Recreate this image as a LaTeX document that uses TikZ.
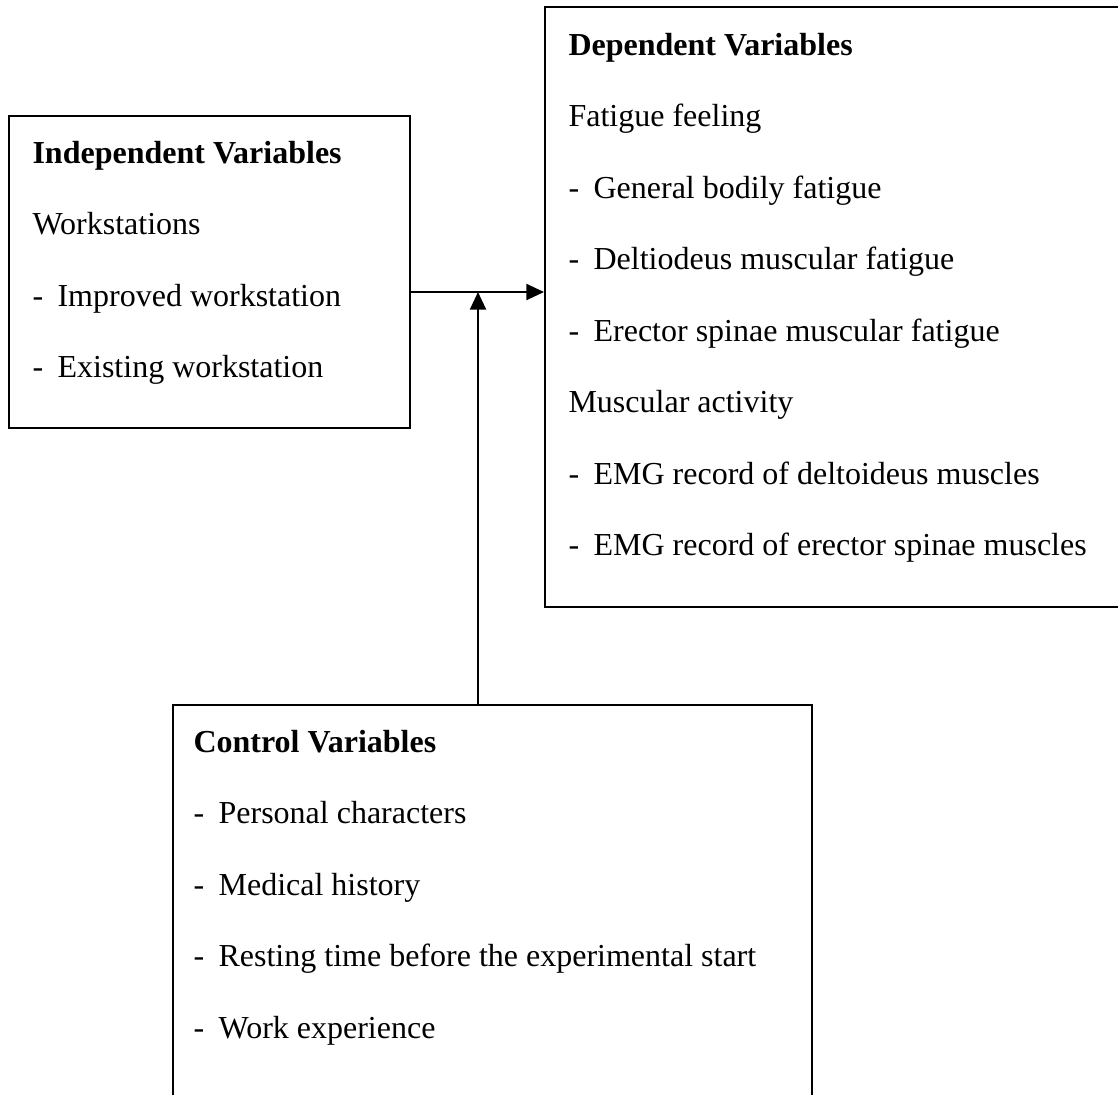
\documentclass[tikz,border=0pt]{standalone}
\usepackage{fontspec}
\setmainfont{Liberation Serif}
\usetikzlibrary{arrows.meta,positioning,fit}
\tikzset{
  kasten/.style={draw,line width=0.75pt,inner sep=0pt},
  zeile/.style={anchor=base west,inner sep=0pt,font=\fontsize{12}{14}\selectfont},
  titel/.style={zeile,font=\fontsize{12}{14}\selectfont\bfseries},
  pfeil/.style={line width=0.75pt,-{Triangle[length=6.6pt,width=6pt]}}
}
\newcommand{\strich}{\makebox[9.4pt][l]{-}}

\begin{document}
\begin{tikzpicture}[x=0.375pt,y=-0.375pt]
\useasboundingbox (0,0) rectangle (1118,1094);
\clip (0,0) rectangle (1118,1094);
%Kaesten (rechts und unten laufen sie ueber den Rand hinaus)
\node[kasten,fit={(9,116) (410,428)}] (indep) {};
\node[kasten,fit={(545,7) (1130,607)}] (dep) {};
\node[kasten,fit={(173,705) (812,1110)}] (ctrl) {};
%Independent
\node[titel] (indepT) at (32,163) {Independent Variables};
\node[zeile] (indepW) at (32,234.5) {Workstations};
\foreach \txt [count=\i] in {Improved workstation,Existing workstation}
  \node[zeile] (indep\i) at (32,234.5+71.5*\i) {\strich\txt};
%Dependent
\node[titel] (depT) at (568,55) {Dependent Variables};
\node[zeile] (depF) at (568,126.5) {Fatigue feeling};
\foreach \txt [count=\i] in {General bodily fatigue,Deltiodeus muscular fatigue,Erector spinae muscular fatigue}
  \node[zeile] (depF\i) at (568,126.5+71.5*\i) {\strich\txt};
\node[zeile] (depM) at (568,412.5) {Muscular activity};
\foreach \txt [count=\i] in {EMG record of deltoideus muscles,EMG record of erector spinae muscles}
  \node[zeile] (depM\i) at (568,412.5+71.5*\i) {\strich\txt};
%Control
\node[titel] (ctrlT) at (193,752) {Control Variables};
\foreach \txt [count=\i] in {Personal characters,Medical history,Resting time before the experimental start,Work experience}
  \node[zeile] (ctrl\i) at (193,752+71.5*\i) {\strich\txt};
%Pfeile
\coordinate (junc) at (478,292);
\draw[pfeil] (indep.east |- junc) -- (dep.west |- junc);
\draw[pfeil] (junc |- ctrl.north) -- (junc);
\end{tikzpicture}
\end{document}
